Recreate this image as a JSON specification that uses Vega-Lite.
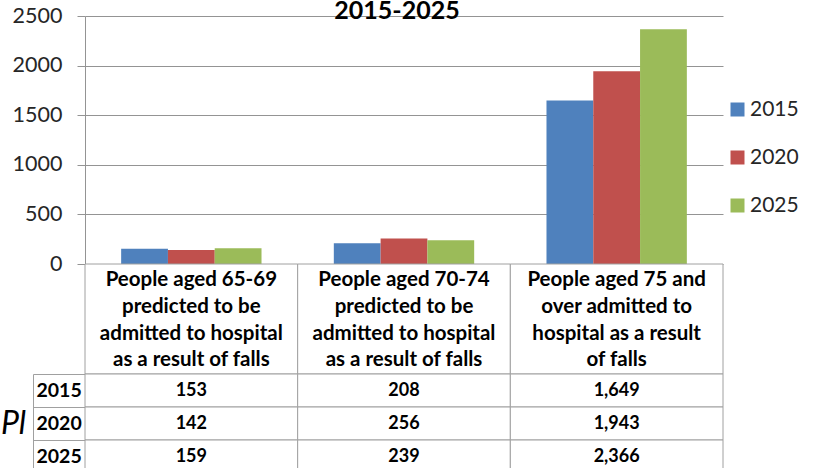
{
  "$schema": "https://vega.github.io/schema/vega-lite/v6.json",
  "data": {"values": [
    {"category": "People aged 65-69\npredicted to be\nadmitted to hospital\nas a result of falls", "year": "2015", "value": 153},
    {"category": "People aged 65-69\npredicted to be\nadmitted to hospital\nas a result of falls", "year": "2020", "value": 142},
    {"category": "People aged 65-69\npredicted to be\nadmitted to hospital\nas a result of falls", "year": "2025", "value": 159},
    {"category": "People aged 70-74\npredicted to be\nadmitted to hospital\nas a result of falls", "year": "2015", "value": 208},
    {"category": "People aged 70-74\npredicted to be\nadmitted to hospital\nas a result of falls", "year": "2020", "value": 256},
    {"category": "People aged 70-74\npredicted to be\nadmitted to hospital\nas a result of falls", "year": "2025", "value": 239},
    {"category": "People aged 75 and\nover admitted to\nhospital as a result\nof falls", "year": "2015", "value": 1649},
    {"category": "People aged 75 and\nover admitted to\nhospital as a result\nof falls", "year": "2020", "value": 1943},
    {"category": "People aged 75 and\nover admitted to\nhospital as a result\nof falls", "year": "2025", "value": 2366}
  ]},
  "padding": {"left": 0, "top": -1, "right": 0, "bottom": 0},
  "spacing": 0,
  "bounds": "flush",
  "vconcat": [
    {
      "width": 638,
      "height": 248,
      "title": {"text": "2015-2025", "fontSize": 25, "fontWeight": "bold", "color": "#000000", "anchor": "middle", "offset": -39, "baseline": "alphabetic", "dx": -7},
      "mark": {"type": "bar"},
      "encoding": {
        "x": {"field": "category", "type": "nominal", "sort": null, "scale": {"paddingInner": 0.34, "paddingOuter": 0.17}, "axis": null},
        "xOffset": {"field": "year", "type": "nominal", "scale": {"paddingInner": 0, "paddingOuter": 0}},
        "y": {"field": "value", "type": "quantitative", "scale": {"domain": [0, 2500], "nice": false},
          "axis": {"values": [0, 500, 1000, 1500, 2000, 2500], "format": "d", "title": null, "grid": true, "gridColor": "#949494", "domainColor": "#949494", "tickColor": "#949494", "tickSize": 8, "labelPadding": 15, "labelFontSize": 21.5, "labelColor": "#262626"}},
        "color": {"field": "year", "type": "nominal", "scale": {"domain": ["2015", "2020", "2025"], "range": ["#4F81BD", "#C0504D", "#9BBB59"]},
          "legend": {"orient": "none", "legendX": 642, "legendY": 83, "title": null, "symbolType": "square", "symbolSize": 196, "symbolStrokeWidth": 0, "labelFontSize": 21, "labelColor": "#262626", "rowPadding": 26, "labelOffset": 2}}
      }
    },
    {
      "width": 638,
      "height": 110,
      "transform": [{"filter": "datum.year == '2015'"}],
      "layer": [
        {"mark": {"type": "rect", "fill": "white", "stroke": "#a0a0a0", "strokeWidth": 1},
         "encoding": {"x": {"field": "category", "type": "nominal", "sort": null, "scale": {"paddingInner": 0, "paddingOuter": 0}, "axis": null}}},
        {"mark": {"type": "text", "fontSize": 20.5, "fontWeight": "bold", "lineBreak": "\n", "lineHeight": 26.8, "dy": -39, "color": "#000000"},
         "encoding": {"x": {"field": "category", "type": "nominal", "sort": null, "axis": null}, "text": {"field": "category", "type": "nominal"}}}
      ]
    },
    {
      "width": 638,
      "height": 99,
      "layer": [
        {"mark": {"type": "rect", "fill": "white", "stroke": "#a0a0a0", "strokeWidth": 1},
         "encoding": {
           "x": {"field": "category", "type": "nominal", "sort": null, "scale": {"paddingInner": 0, "paddingOuter": 0}, "axis": null},
           "y": {"field": "year", "type": "nominal", "scale": {"paddingInner": 0, "paddingOuter": 0}, "axis": {"orient": "left", "offset": 52, "domain": true, "domainColor": "#a0a0a0", "labels": false, "ticks": false, "grid": false, "title": null}}}},
        {"mark": {"type": "text", "fontSize": 18, "fontWeight": "bold", "color": "#000000"},
         "encoding": {
           "x": {"field": "category", "type": "nominal", "sort": null, "axis": null},
           "y": {"field": "year", "type": "nominal", "axis": {"orient": "left", "bandPosition": 0, "ticks": true, "tickSize": 52, "tickColor": "#a0a0a0", "labelAlign": "left", "labelPadding": -3, "labelFontSize": 19.5, "labelFontWeight": "bold", "labelColor": "#000000", "domain": false, "grid": false, "title": "Pl", "titleAngle": 0, "titleAlign": "right", "titleBaseline": "middle", "titleFontSize": 32, "titleFontStyle": "italic", "titleFontWeight": "normal", "titleColor": "#000000", "titlePadding": 7}},
           "text": {"field": "value", "type": "quantitative", "format": ","}}}
      ],
      "resolve": {"axis": {"y": "independent"}}
    }
  ],
  "config": {"font": "Lato", "view": {"stroke": null}, "background": "white"}
}
